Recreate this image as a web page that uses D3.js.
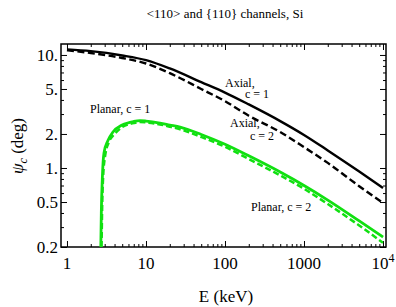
<!DOCTYPE html>
<html>
<head>
<meta charset="utf-8">
<title>channels</title>
<style>
  body { margin: 0; background: #fff; }
</style>
</head>
<body>
<script src="https://cdn.jsdelivr.net/npm/d3@7"></script>
<script>
// energies (keV) and critical angles (deg)
var axialE = [1, 2, 5, 10, 20, 50, 100, 200, 500, 1000, 2000, 5000, 10000];
var axialC1 = [11.2, 10.8, 9.9, 9.0, 7.6, 5.75, 4.65, 3.65, 2.6, 1.96, 1.43, 0.93, 0.665];
var axialC2 = [11.0, 10.4, 9.4, 8.4, 6.9, 5.0, 3.9, 2.9, 2.08, 1.53, 1.11, 0.69, 0.49];

var planarE1 = [2.68, 2.72, 2.8, 2.94, 3.3, 3.82, 5, 7, 8.4, 10, 15, 20, 27, 50, 100, 200, 500, 1000, 2000, 5000, 10000];
var planarC1 = [0.2, 0.4, 0.8, 1.36, 1.75, 2.08, 2.4, 2.58, 2.62, 2.6, 2.5, 2.4, 2.3, 1.98, 1.62, 1.28, 0.92, 0.70, 0.52, 0.34, 0.245];
var planarE2 = [2.74, 2.78, 2.86, 3.05, 3.4, 4.0, 5, 7, 8.4, 10, 15, 20, 27, 50, 100, 200, 500, 1000, 2000, 5000, 10000];
var planarC2 = [0.2, 0.4, 0.8, 1.3, 1.7, 2.0, 2.3, 2.5, 2.55, 2.53, 2.43, 2.32, 2.2, 1.88, 1.54, 1.2, 0.86, 0.655, 0.48, 0.31, 0.218];

var xTicks = [1, 10, 100, 1000, 10000];
var xLabels = ["1", "10", "100", "1000", "10^4"];
var yTicks = [0.2, 0.5, 1, 2, 5, 10];
var yLabels = ["0.2", "0.5", "1.", "2.", "5.", "10."];

var W = 396, H = 307;
var pL = 61, pR = 386, pT = 44, pB = 247;
var serif = 'Liberation Serif';

var svg = d3.select('body').append('svg').attr('width', W).attr('height', H)
  .attr('font-family', serif);

var x = d3.scaleLog().domain([0.84, 10915]).range([pL, pR]);
var y = d3.scaleLog().domain([0.2, 12.5]).range([pB, pT]);

svg.append('defs').append('clipPath').attr('id', 'plot')
  .append('rect').attr('x', pL).attr('y', pT)
  .attr('width', pR - pL).attr('height', pB - pT);

// minor ticks
var xMinor = [];
[1, 10, 100, 1000].forEach(function(d){
  for (var k = 2; k <= 9; k++) xMinor.push(d * k);
});
var yMinor = [0.3, 0.4, 0.6, 0.7, 0.8, 0.9, 3, 4, 6, 7, 8, 9];

var g = svg.append('g');

// bottom + top axes
g.append('g').attr('transform', 'translate(0,' + pB + ')')
  .call(d3.axisBottom(x).tickValues(xTicks).tickSizeInner(-6).tickSizeOuter(0).tickFormat(''));
g.append('g').attr('transform', 'translate(0,' + pB + ')')
  .call(d3.axisBottom(x).tickValues(xMinor).tickSizeInner(-3).tickSizeOuter(0).tickFormat(''));
g.append('g').attr('transform', 'translate(0,' + pT + ')')
  .call(d3.axisTop(x).tickValues(xTicks).tickSizeInner(-6).tickSizeOuter(0).tickFormat(''));
g.append('g').attr('transform', 'translate(0,' + pT + ')')
  .call(d3.axisTop(x).tickValues(xMinor).tickSizeInner(-3).tickSizeOuter(0).tickFormat(''));
// left + right axes
g.append('g').attr('transform', 'translate(' + pL + ',0)')
  .call(d3.axisLeft(y).tickValues(yTicks).tickSizeInner(-6).tickSizeOuter(0).tickFormat(''));
g.append('g').attr('transform', 'translate(' + pL + ',0)')
  .call(d3.axisLeft(y).tickValues(yMinor).tickSizeInner(-3).tickSizeOuter(0).tickFormat(''));
g.append('g').attr('transform', 'translate(' + pR + ',0)')
  .call(d3.axisRight(y).tickValues(yTicks).tickSizeInner(-6).tickSizeOuter(0).tickFormat(''));
g.append('g').attr('transform', 'translate(' + pR + ',0)')
  .call(d3.axisRight(y).tickValues(yMinor).tickSizeInner(-3).tickSizeOuter(0).tickFormat(''));

g.selectAll('.domain').remove();
g.selectAll('.tick line').attr('stroke', '#000').attr('stroke-width', 1);

svg.append('rect').attr('x', pL).attr('y', pT)
  .attr('width', pR - pL).attr('height', pB - pT)
  .attr('fill', 'none').attr('stroke', '#000').attr('stroke-width', 1.5);

// tick labels
svg.selectAll('.ylab').data(yTicks).enter().append('text')
  .attr('x', pL - 3).attr('y', function(d){ return y(d); })
  .attr('dy', '0.35em').attr('text-anchor', 'end')
  .attr('font-family', serif).attr('font-size', 17)
  .text(function(d, i){ return yLabels[i]; });

var xl = svg.selectAll('.xlab').data(xTicks).enter().append('text')
  .attr('x', function(d){ return x(d); }).attr('y', 269)
  .attr('text-anchor', 'middle')
  .attr('font-family', serif).attr('font-size', 17);
xl.each(function(d, i){
  var t = d3.select(this), lab = xLabels[i];
  if (lab.indexOf('^') > 0) {
    var p = lab.split('^');
    t.append('tspan').text(p[0]);
    t.append('tspan').attr('dy', -7).attr('font-size', 12).text(p[1]);
  } else {
    t.text(lab);
  }
});

// axis titles
svg.append('text').attr('x', 226).attr('y', 302).attr('text-anchor', 'middle')
  .attr('font-family', serif).attr('font-size', 17).text('E (keV)');

var yt = svg.append('text').attr('transform', 'translate(23,146) rotate(-90)')
  .attr('text-anchor', 'middle').attr('font-family', serif).attr('font-size', 17);
yt.append('tspan').attr('font-style', 'italic').text('ψ');
yt.append('tspan').attr('font-style', 'italic').attr('font-size', 12).attr('dy', 4).text('c');
yt.append('tspan').attr('dy', -4).text(' (deg)');

svg.append('text').attr('x', 225).attr('y', 18).attr('text-anchor', 'middle')
  .attr('font-family', serif).attr('font-size', 13).text('<110> and {110} channels, Si');

// curves
var line = d3.line()
  .x(function(d){ return x(d[0]); })
  .y(function(d){ return y(d[1]); })
  .curve(d3.curveMonotoneX);

var curves = [
  {E: planarE1, v: planarC1, color: '#11e011', dash: null, w: 2.8},
  {E: planarE2, v: planarC2, color: '#11e011', dash: '6,3', w: 2.5},
  {E: axialE, v: axialC1, color: '#000', dash: null, w: 2.4},
  {E: axialE, v: axialC2, color: '#000', dash: '7,3.5', w: 2.4}
];

svg.append('g').attr('clip-path', 'url(#plot)')
  .selectAll('path').data(curves).enter().append('path')
  .attr('d', function(c){ return line(c.E.map(function(e, i){ return [e, c.v[i]]; })); })
  .attr('fill', 'none')
  .attr('stroke', function(c){ return c.color; })
  .attr('stroke-width', function(c){ return c.w; })
  .attr('stroke-dasharray', function(c){ return c.dash; });

// annotations
var notes = [
  {t: 'Axial,', x: 225, y: 87},
  {t: 'c = 1', x: 245, y: 98},
  {t: 'Axial,', x: 230, y: 127},
  {t: 'c = 2', x: 250, y: 140},
  {t: 'Planar, c = 1', x: 90, y: 113},
  {t: 'Planar, c = 2', x: 251, y: 211}
];
svg.selectAll('.note').data(notes).enter().append('text')
  .attr('x', function(d){ return d.x; }).attr('y', function(d){ return d.y; })
  .attr('font-family', serif).attr('font-size', 12).text(function(d){ return d.t; });
</script>
</body>
</html>
